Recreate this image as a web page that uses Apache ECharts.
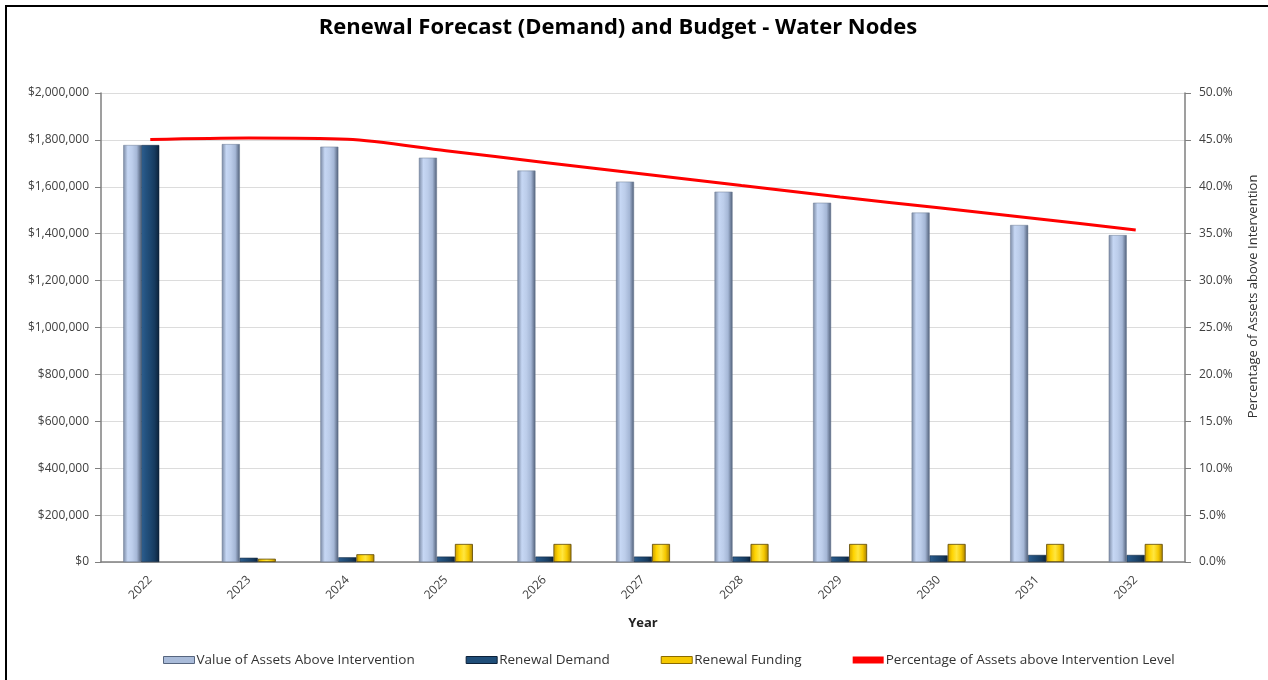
<!DOCTYPE html>
<html>
<head>
<meta charset="utf-8">
<script src="https://cdn.jsdelivr.net/npm/echarts@6/dist/echarts.min.js"></script>
<style>
  html, body { margin: 0; padding: 0; background: #fff; }
  #chart { width: 1268px; height: 680px; }
</style>
</head>
<body>
<div id="chart"></div>
<script>
// years on the x axis
const years = ['2022', '2023', '2024', '2025', '2026', '2027', '2028', '2029', '2030', '2031', '2032'];
// $ values
const assetsAbove = [1778000, 1782000, 1771000, 1724000, 1669000, 1622000, 1579000, 1532000, 1490000, 1437000, 1394000];
const renewalDemand = [1778000, 18000, 20000, 23000, 23000, 23000, 23000, 23000, 28000, 30000, 30000];
const renewalFunding = [null, 14000, 33000, 77000, 77000, 77000, 77000, 77000, 77000, 77000, 77000];
// % values
const pctAbove = [45.04, 45.2, 45.06, 43.84, 42.6, 41.36, 40.13, 38.92, 37.76, 36.6, 35.39];

const font = '"Open Sans", "Liberation Sans", sans-serif';

function hGrad(stops) {   // horizontal gradient across the bar, gives the rounded look
  return new echarts.graphic.LinearGradient(0, 0, 1, 0,
    stops.map((c, i) => ({offset: i / (stops.length - 1), color: c})));
}

const lightFill = hGrad(['#7a89a3', '#c6d7f4', '#bccdea', '#a5b7d6', '#4f5e77']);
const darkFill = hGrad(['#2e5f91', '#23527f', '#1d4770', '#163a5e', '#0c2139']);
const goldFill = hGrad(['#c99a00', '#ffd400', '#ffe640', '#f5c800', '#a77f00']);

const myChart = echarts.init(document.getElementById('chart'));

myChart.setOption({
  animation: false,
  textStyle: { fontFamily: font },
  title: {
    text: 'Renewal Forecast (Demand) and Budget - Water Nodes',
    left: 613, top: 12, textAlign: 'center',
    textStyle: { fontSize: 22, fontWeight: 'bold', color: '#000', fontFamily: font }
  },
  graphic: [{
    type: 'rect', silent: true,
    shape: { x: 6, y: 6, width: 1275, height: 700 },
    style: { fill: 'none', stroke: '#000', lineWidth: 2 }
  }],
  legend: {
    bottom: 8, left: 158, itemGap: 51, itemWidth: 31, itemHeight: 7,
    textStyle: { fontSize: 13.5, color: '#333', fontFamily: font, padding: [0, 0, 0, -3] },
    data: [
      { name: 'Value of Assets Above Intervention', icon: 'rect', itemStyle: { color: '#a9bbd9', borderColor: '#56657e', borderWidth: 1 } },
      { name: 'Renewal Demand', icon: 'rect', itemStyle: { color: '#1f4e79', borderColor: '#0c2139', borderWidth: 1 } },
      { name: 'Renewal Funding', icon: 'rect', itemStyle: { color: '#f5c800', borderColor: '#8a6a00', borderWidth: 1 } },
      { name: 'Percentage of Assets above Intervention Level', icon: 'rect', itemStyle: { color: '#ff0000' }, itemHeight: 3 }
    ]
  },
  grid: { left: 101, right: 80, top: 93, bottom: 118 },
  xAxis: {
    type: 'category', data: years,
    name: 'Year', nameLocation: 'middle', nameGap: 55,
    nameTextStyle: { fontSize: 13, fontWeight: 'bold', color: '#222' },
    axisLine: { lineStyle: { color: '#7f7f7f', width: 1.5 } },
    axisTick: { show: false },
    axisLabel: { rotate: 45, fontSize: 12, color: '#404040', margin: 16 }
  },
  yAxis: [{
    type: 'value', min: 0, max: 2000000, interval: 200000,
    axisLine: { show: true, lineStyle: { color: '#7f7f7f', width: 1.5 } },
    axisTick: { show: true, length: 6, lineStyle: { color: '#7f7f7f' } },
    splitLine: { lineStyle: { color: '#dcdcdc' } },
    axisLabel: {
      fontSize: 12, color: '#404040', margin: 12,
      formatter: v => '$' + v.toLocaleString('en-US')
    }
  }, {
    type: 'value', min: 0, max: 50, interval: 5,
    name: 'Percentage of Assets above Intervention', nameLocation: 'middle', nameGap: 62, nameRotate: 90,
    nameTextStyle: { fontSize: 13, color: '#333', padding: [0, 0, 0, 62] },
    axisLine: { show: true, lineStyle: { color: '#7f7f7f', width: 1.5 } },
    axisTick: { show: true, length: 6, lineStyle: { color: '#7f7f7f' } },
    splitLine: { show: false },
    axisLabel: { fontSize: 12, color: '#404040', margin: 14, formatter: v => v.toFixed(1) + '%' }
  }],
  series: [{
    name: 'Value of Assets Above Intervention', type: 'bar', data: assetsAbove,
    barWidth: 18, barGap: '0%',
    itemStyle: { color: lightFill, borderColor: '#6b7a93', borderWidth: 0.5 }
  }, {
    name: 'Renewal Demand', type: 'bar', data: renewalDemand,
    barWidth: 18, barGap: '0%',
    itemStyle: { color: darkFill, borderColor: '#0c2139', borderWidth: 0.5 }
  }, {
    name: 'Renewal Funding', type: 'bar', data: renewalFunding,
    barWidth: 18, barGap: '0%',
    itemStyle: { color: goldFill, borderColor: '#5c4600', borderWidth: 0.8 }
  }, {
    name: 'Percentage of Assets above Intervention Level', type: 'line', yAxisIndex: 1,
    data: pctAbove, smooth: 0.3, symbol: 'none',
    lineStyle: { color: '#ff0000', width: 3 }, itemStyle: { color: '#ff0000' }
  }]
});
</script>
</body>
</html>
